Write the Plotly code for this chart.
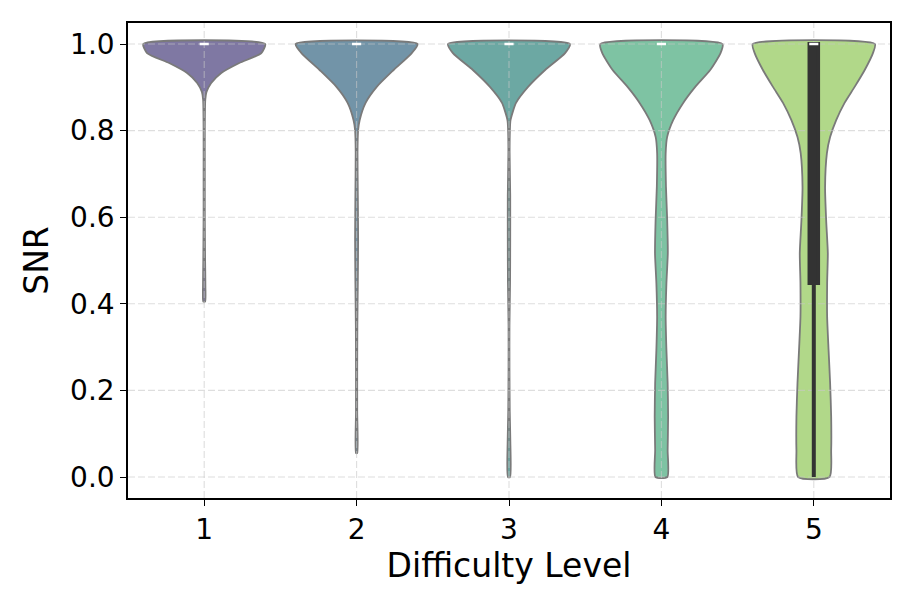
import plotly.graph_objects as go

# ---------------- data ----------------
levels = [1, 2, 3, 4, 5]
tick_labels = ["1", "2", "3", "4", "5"]

# violin profiles: SNR positions and half-widths (in category units)
snr_l1 = [1.0, 0.979, 0.956, 0.933, 0.910, 0.889, 0.871, 0.80, 0.70, 0.60, 0.50, 0.44, 0.405]
hw_l1 = [0.40, 0.375, 0.23, 0.112, 0.046, 0.015, 0.007, 0.004, 0.004, 0.004, 0.006, 0.008, 0.006]

snr_l2 = [1.0, 0.979, 0.940, 0.901, 0.864, 0.824, 0.801, 0.75, 0.65, 0.55, 0.45, 0.35, 0.25, 0.15, 0.055]
hw_l2 = [0.40, 0.362, 0.243, 0.132, 0.059, 0.02, 0.01, 0.006, 0.008, 0.01, 0.008, 0.005, 0.004, 0.004, 0.004]

snr_l3 = [1.0, 0.979, 0.940, 0.901, 0.864, 0.824, 0.801, 0.75, 0.65, 0.55, 0.45, 0.35, 0.25, 0.15, 0.08, 0.0]
hw_l3 = [0.40, 0.368, 0.237, 0.125, 0.046, 0.01, 0.006, 0.004, 0.008, 0.008, 0.007, 0.003, 0.003, 0.005, 0.009, 0.007]

snr_l4 = [1.0, 0.979, 0.940, 0.901, 0.864, 0.824, 0.785, 0.748, 0.670, 0.594, 0.517, 0.448, 0.370, 0.293, 0.217, 0.139, 0.062, 0.0]
hw_l4 = [0.401, 0.388, 0.32, 0.222, 0.143, 0.077, 0.0375, 0.028, 0.030, 0.038, 0.042, 0.033, 0.028, 0.033, 0.041, 0.044, 0.041, 0.039]

snr_l5 = [1.0, 0.979, 0.940, 0.901, 0.864, 0.824, 0.785, 0.748, 0.670, 0.594, 0.517, 0.448, 0.370, 0.293, 0.217, 0.139, 0.062, 0.0]
hw_l5 = [0.401, 0.388, 0.334, 0.268, 0.202, 0.147, 0.107, 0.086, 0.074, 0.081, 0.092, 0.0875, 0.0875, 0.097, 0.107, 0.114, 0.114, 0.103]

# inner box statistics
q1 = [1.0, 1.0, 1.0, 1.0, 0.448]
q3 = [1.0, 1.0, 1.0, 1.0, 1.0]
median = [1.0, 1.0, 1.0, 1.0, 1.0]
whisker_lo = [1.0, 1.0, 1.0, 1.0, 0.0]
whisker_hi = [1.0, 1.0, 1.0, 1.0, 1.0]

y_ticks = [0.0, 0.2, 0.4, 0.6, 0.8, 1.0]

# ---------------- styling ----------------
fills = ["#7f78a3", "#7294a8", "#6ca8a3", "#7ec3a3", "#b1d889"]
outline = "#7a7a7a"
dark = "#333333"
grid_col = "rgba(200,200,200,0.6)"
FONT = "DejaVu Sans"

profiles = [(snr_l1, hw_l1), (snr_l2, hw_l2), (snr_l3, hw_l3), (snr_l4, hw_l4), (snr_l5, hw_l5)]

fig = go.Figure()
for lev, (ys, hws), col in zip(levels, profiles, fills):
    xs = [lev + w for w in hws] + [lev - w for w in reversed(hws)] + [lev + hws[0]]
    yy = list(ys) + list(reversed(ys)) + [ys[0]]
    fig.add_trace(go.Scatter(
        x=xs, y=yy, mode="lines", fill="toself", fillcolor=col,
        line=dict(color=outline, width=1.8, shape="spline", smoothing=0.6),
        hoverinfo="skip", showlegend=False))

shapes = []
# grid lines (drawn above violins, like the reference)
for t in y_ticks:
    shapes.append(dict(type="line", xref="paper", yref="y", x0=0, x1=1, y0=t, y1=t,
                       line=dict(color=grid_col, width=1.1, dash="7px,3px"), layer="above"))
for lev in levels:
    shapes.append(dict(type="line", xref="x", yref="paper", x0=lev, x1=lev, y0=0, y1=1,
                       line=dict(color=grid_col, width=1.1, dash="7px,3px"), layer="above"))

# inner boxes
for lev, a, b, m, lo, hi in zip(levels, q1, q3, median, whisker_lo, whisker_hi):
    if hi > lo:
        shapes.append(dict(type="line", xref="x", yref="y", x0=lev, x1=lev, y0=lo, y1=hi,
                           line=dict(color=dark, width=4), layer="above"))
    if b > a:
        shapes.append(dict(type="rect", xref="x", yref="y", x0=lev - 0.028, x1=lev + 0.028,
                           y0=a, y1=b, fillcolor=dark,
                           line=dict(color=dark, width=4), layer="above"))
    shapes.append(dict(type="line", xref="x", yref="y", x0=lev - 0.03, x1=lev + 0.03, y0=m, y1=m,
                       line=dict(color="white", width=2.5), layer="above"))

fig.update_layout(
    width=905, height=601,
    margin=dict(l=120, r=23, t=15, b=111),
    paper_bgcolor="white", plot_bgcolor="white",
    font=dict(family=FONT, color="black"),
    shapes=shapes,
    showlegend=False,
)
fig.update_xaxes(
    range=[0.5, 5.5], tickvals=levels, ticktext=tick_labels,
    showgrid=False, zeroline=False,
    showline=True, mirror=True, linecolor="black", linewidth=1.5,
    ticks="outside", ticklen=6, tickwidth=1.3, tickcolor="black",
    tickfont=dict(family=FONT, size=28, color="black"),
    title=dict(text="Difficulty Level", font=dict(family=FONT, size=33, color="black"), standoff=5),
)
fig.update_yaxes(
    range=[-0.0485, 1.0485], tickvals=y_ticks, ticktext=[f"{t:.1f}" for t in y_ticks],
    showgrid=False, zeroline=False,
    showline=True, mirror=True, linecolor="black", linewidth=1.5,
    ticks="outside", ticklen=6, tickwidth=1.3, tickcolor="black",
    tickfont=dict(family=FONT, size=28, color="black"),
    title=dict(text="SNR", font=dict(family=FONT, size=33, color="black"), standoff=12),
)

fig.write_html("out.html")
